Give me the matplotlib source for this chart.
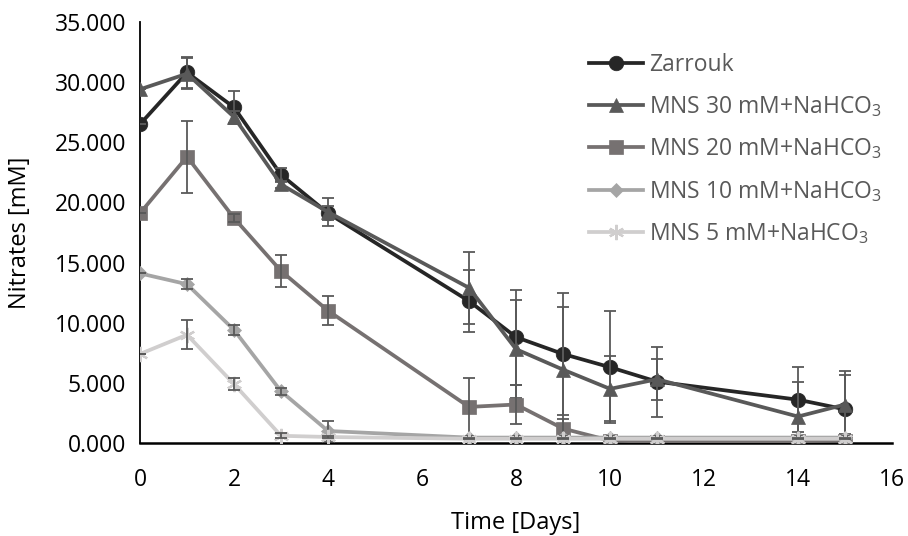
import numpy as np
from matplotlib import pyplot as plt

plt.rcParams['font.family'] = ['Open Sans', 'DejaVu Sans']
plt.rcParams['mathtext.fontset'] = 'custom'
plt.rcParams['mathtext.rm'] = 'Open Sans'

# sampling days
days = [0, 1, 2, 3, 4, 7, 8, 9, 10, 11, 14, 15]

# nitrates [mM]
zarrouk = [26.5, 30.8, 27.9, 22.3, 19.1, 11.8, 8.8, 7.4, 6.3, 5.1, 3.6, 2.8]
zarrouk_err = [0, 1.3, 1.4, 0.6, 0.6, 2.6, 3.95, 5.1, 4.65, 2.9, 2.7, 3.2]
mns30 = [29.4, 30.7, 27.1, 21.5, 19.2, 12.9, 7.8, 6.1, 4.5, 5.3, 2.2, 3.2]
mns30_err = [0, 1.3, 0.5, 0.3, 1.2, 3.0, 4.1, 5.2, 2.7, 1.7, 2.85, 2.45]
mns20 = [19.1, 23.8, 18.7, 14.3, 11.0, 3.0, 3.2, 1.2, 0.2, 0.1, 0.15, 0.2]
mns20_err = [0, 3.0, 0.3, 1.3, 1.2, 2.4, 1.6, 0.8, 0.1, 0.1, 0.1, 0.1]
mns10 = [14.1, 13.2, 9.4, 4.3, 1.0, 0.45, 0.45, 0.45, 0.45, 0.45, 0.45, 0.45]
mns10_err = [0, 0.4, 0.4, 0.3, 0.8, 0.1, 0.1, 0.1, 0.1, 0.1, 0.1, 0.1]
mns5 = [7.4, 9.0, 4.9, 0.6, 0.5, 0.35, 0.35, 0.35, 0.35, 0.35, 0.35, 0.35]
mns5_err = [0, 1.2, 0.5, 0.2, 0.1, 0.05, 0.05, 0.05, 0.05, 0.05, 0.05, 0.05]

labels = ['Zarrouk', 'MNS 30 mM+NaHCO$_3$', 'MNS 20 mM+NaHCO$_3$',
          'MNS 10 mM+NaHCO$_3$', 'MNS 5 mM+NaHCO$_3$']
series = [zarrouk, mns30, mns20, mns10, mns5]
errors = [zarrouk_err, mns30_err, mns20_err, mns10_err, mns5_err]
colors = ['#262626', '#595959', '#767171', '#a5a5a5', '#d0cece']
markers = ['o', '^', 's', 'D', (6, 2, 0)]
msizes = [10.5, 10.5, 10, 7, 11]

fig = plt.figure(figsize=(9.08, 5.36), dpi=100)
ax = fig.add_axes([0.1542, 0.1735, 0.8282, 0.7855])

handles = []
for i in range(len(series)):
    ax.errorbar(days, series[i], yerr=errors[i], fmt='none', ecolor='#595959',
                elinewidth=1.3, capsize=4.5, capthick=1.3, zorder=10 + 2*i)
    h, = ax.plot(days, series[i], color=colors[i], lw=2.7, marker=markers[i],
                 markersize=msizes[i], markeredgewidth=1.6 if i == 4 else 0.5,
                 markeredgecolor=colors[i], label=labels[i], zorder=9 + 2*i)
    handles.append(h)

ax.set_xlim(0, 16)
ax.set_ylim(0, 35)
ax.set_xticks(np.arange(0, 17, 2))
ax.set_yticks(np.arange(0, 36, 5))
ax.set_yticklabels(['%.3f' % v for v in np.arange(0, 36, 5)])
ax.tick_params(length=0, labelsize=16.5, colors='#000000')
ax.tick_params(axis='x', pad=18)
ax.tick_params(axis='y', pad=10)
ax.spines['top'].set_visible(False)
ax.spines['right'].set_visible(False)
ax.spines['left'].set_linewidth(1.3)
ax.spines['bottom'].set_linewidth(1.8)
ax.set_xlabel('Time [Days]', fontsize=17, labelpad=14)
ax.set_ylabel('Nitrates [mM]', fontsize=17, labelpad=16)

leg = fig.legend(handles=handles, loc='upper left', bbox_to_anchor=(0.626, 0.94),
                 frameon=False, fontsize=16.5, handlelength=2.36, labelspacing=0.76,
                 handletextpad=0.26)
for t in leg.get_texts():
    t.set_color('#595959')

fig.savefig('out.png', dpi=100)
